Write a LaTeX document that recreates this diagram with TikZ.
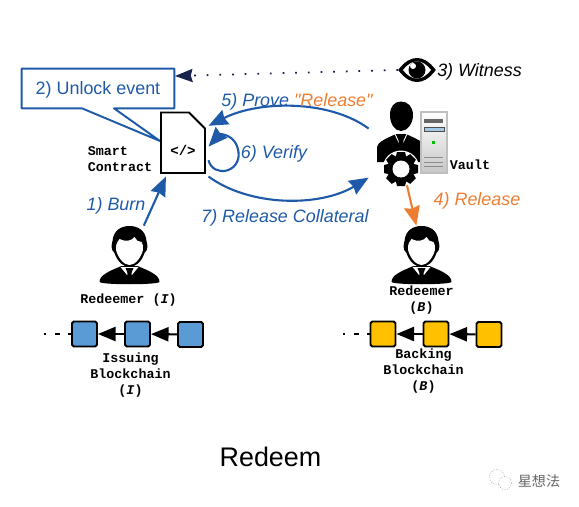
\documentclass[tikz,border=0pt]{standalone}
\usepackage{fontspec}
\setmainfont{Liberation Sans}
\setmonofont{Liberation Mono}
\newfontfamily\plainsans{Liberation Sans}
\newfontfamily\cjk{Noto Sans CJK SC}
\usepackage{tikz}
\usetikzlibrary{arrows.meta,calc}
\usepackage{xcolor}
\definecolor{cBlue}{RGB}{30,90,168}
\definecolor{cOrange}{RGB}{237,125,49}
\definecolor{cNavy}{RGB}{25,35,75}
\definecolor{cIssuing}{RGB}{91,155,213}
\definecolor{cBacking}{RGB}{255,192,0}
\tikzset{
  flowarrow/.style={line width=1.2pt,-{Stealth[length=11pt,width=9pt,inset=1pt]}},
  linkarrow/.style={line width=1.2pt,black,-{Triangle[length=10pt,width=8pt]}},
  labeltext/.style={font=\fontsize{10.2}{12}\selectfont\itshape,inner sep=0pt},
  monotext/.style={font=\fontsize{7.6}{9.1}\selectfont\ttfamily\bfseries,inner sep=0pt,align=center},
  block/.style={draw=black,line width=1.1pt,rounded corners=1pt,minimum size=0.5cm,inner sep=0pt},
  redeemer/.pic={
    % Shoulders, collar and tie
    \fill[black] (-30,56) .. controls (-30,49) and (-20,45) .. (-8,40) -- (8,40)
      .. controls (20,45) and (30,49) .. (30,56) .. controls (27,59) and (-27,59) .. (-30,56) -- cycle;
    \fill[white] (-9,41) -- (9,41) -- (0,52) -- cycle;
    \fill[black] (-4,42) -- (4,42) -- (2,47) -- (3,56) -- (-3,56) -- (-2,47) -- cycle;
    % Head
    \fill[black] (-15,27) .. controls (-19,24) and (-18,18) .. (-17,15)
      .. controls (-16,4) and (-8,0) .. (0,0) .. controls (8,0) and (16,4) .. (17,15)
      .. controls (18,18) and (19,24) .. (15,27) .. controls (12,36) and (6,41) .. (0,41)
      .. controls (-6,41) and (-12,36) .. (-15,27) -- cycle;
    \fill[white] (-13.5,22) .. controls (-13.5,18) and (-12,15) .. (-10,13)
      .. controls (-4,16) and (2,15) .. (5,11) .. controls (6,14) and (9,16) .. (12,16)
      .. controls (13.5,18) and (13.5,20) .. (13.5,24) .. controls (11,33) and (5,39) .. (0,39)
      .. controls (-5,39) and (-11,33) .. (-13.5,24) -- cycle;
  }
}
\begin{document}
\begin{tikzpicture}[x=0.02cm,y=-0.02cm]
  \useasboundingbox (0,0) rectangle (579,507);
  % Smart contract and its callout
  \node[minimum width=3.04cm,minimum height=0.78cm,inner sep=0pt,text=cBlue,text height=7pt,text depth=0pt,
    font=\fontsize{10.2}{12}\selectfont] (unlock) at (98,88.5) {2) Unlock event};
  \coordinate (pointerTip) at (160,141);
  \draw[cBlue,line width=1.1pt,line join=round] (unlock.north west) -- (unlock.north east) -- (unlock.south east)
    -- ($(unlock.south)+(16,0)$) -- (pointerTip) -- ($(unlock.south)+(-16,0)$) -- (unlock.south west) -- cycle;
  \draw[line width=1.1pt,fill=white] (161,112.5) -- (189,112.5) -- (205,128.5) -- (205,173) -- (161,173) -- cycle;
  \node[minimum width=0.88cm,minimum height=1.2cm,inner sep=0pt,outer sep=2pt] (contract) at (183,143) {};
  \node[inner sep=0pt,font=\fontsize{8}{10}\selectfont\ttfamily\bfseries] (codetag) at (183,150) {</>};
  \node[monotext,align=left] (contractname) at (120,159) {Smart\\Contract};
  % Vault
  \node[minimum width=1.28cm,minimum height=1.68cm,inner sep=0pt] (vault) at (401,143) {};
  \fill[black] (401,101.5) .. controls (394,101.5) and (390,107) .. (390,115)
    .. controls (390,124) and (395,131) .. (401,131) .. controls (407,131) and (413,124) .. (413,115)
    .. controls (413,107) and (408,101.5) .. (401,101.5) -- cycle;
  \fill[black] (377,162) -- (377,147) .. controls (378,142) and (385,139) .. (396,134)
    -- (406,134) .. controls (417,139) and (424,142) .. (425,147) -- (425,162) -- cycle;
  \draw[white,line width=0.5pt] (395,134) -- (401,147) -- (407,134);
  \fill[black] (398,135) -- (404,135) -- (403,140) -- (405,150) -- (397,150) -- (399,140) -- cycle;
  \fill[white] (401,169) circle (18.5);
  \foreach \a in {0,45,...,315}
    \fill[black,rotate around={\a:(401,169)}] (397,152) -- (405,152) -- (406.5,158) -- (395.5,158) -- cycle;
  \fill[black] (401,169) circle (13.5);
  \fill[white] (401,169) circle (8.5);
  % Server
  \shade[top color=white,bottom color=black!22,draw=black!25,line width=0.6pt] (421,112) rectangle (447,173);
  \fill[black!60] (424,119) rectangle (443,122.5);
  \draw[black!70,fill=cIssuing!55,line width=0.5pt] (424,127.5) rectangle (444,131.5);
  \fill[green!75!black] (431.5,140.5) rectangle (434.5,143.5);
  \draw[black!45,line width=0.5pt] (424,157) -- (443,157) (424,162) -- (443,162) (424,166.5) -- (443,166.5);
  \node[monotext] (vaultname) at (470,165) {Vault};
  % Witness
  \node[minimum width=0.74cm,minimum height=0.46cm,inner sep=0pt] (eye) at (417,70) {};
  \fill[black] (eye.west) .. controls (405,61) and (411,58) .. (417,58)
    .. controls (423,58) and (429,61) .. (eye.east) .. controls (429,79) and (423,82) .. (417,82)
    .. controls (411,82) and (405,79) .. (eye.west) -- cycle;
  \fill[white] (403,70) .. controls (408,64) and (412,61.5) .. (417,61.5)
    .. controls (422,61.5) and (426,64) .. (431,70) .. controls (426,76) and (422,78.5) .. (417,78.5)
    .. controls (412,78.5) and (408,76) .. (403,70) -- cycle;
  \fill[black] (417,70) circle (8.5);
  \fill[white] (413,66) circle (3);
  \node[labeltext,text=black] (witness) at (479.5,71.5) {3) Witness};
  \coordinate (witnessTip) at (175,76);
  \draw[cNavy,line width=1pt,dash pattern=on 1pt off 6.2pt,-{Stealth[length=10pt,width=7.5pt,inset=1pt,cNavy]}] (eye.west) -- (witnessTip);
  % Redeemers
  \node[minimum width=1.2cm,minimum height=1.16cm,inner sep=0pt] (redeemerI) at (129.5,255) {};
  \pic at (129.5,226) {redeemer};
  \node[monotext] (redeemerIname) at (128.5,300) {Redeemer (\textit{I})};
  \node[minimum width=1.2cm,minimum height=1.16cm,inner sep=0pt] (redeemerB) at (421.5,255) {};
  \pic at (421.5,226) {redeemer};
  \node[monotext] (redeemerBname) at (421.5,300) {Redeemer\\(\textit{B})};
  % Flows
  \draw[flowarrow,cBlue] (redeemerI.64) -- (contract.243);
  \node[labeltext,text=cBlue] (burn) at (116,205.5) {1) Burn};
  \draw[flowarrow,cBlue] (vault.156) .. controls (330,100) and (260,100) .. (contract.34);
  \node[labeltext,text=cBlue] (prove) at (297,102) {5) Prove {\plainsans\itshape\textcolor{cOrange}{"Release"}}};
  \draw[flowarrow,cBlue] (contract.-34) .. controls (213,178) and (241,173) .. (238.5,152)
    .. controls (236,134) and (220,134) .. (contract.-8);
  \node[labeltext,text=cBlue] (verify) at (274,153.5) {6) Verify};
  \draw[flowarrow,cBlue] (contract.south east) .. controls (250,207) and (320,207) .. (vault.-133);
  \node[labeltext,text=cBlue] (collateral) at (285,218) {7) Release Collateral};
  \draw[flowarrow,cOrange] (vault.-82) -- (redeemerB.100);
  \node[labeltext,text=cOrange] (release) at (477,200.5) {4) Release};
  % Issuing chain
  \node[block,fill=cIssuing] (issuingA) at (84.5,334) {};
  \node[block,fill=cIssuing] (issuingB) at (137.5,334) {};
  \node[block,fill=cIssuing] (issuingC) at (190.5,334.5) {};
  \draw[linkarrow] (issuingC) -- (issuingB);
  \draw[linkarrow] (issuingB) -- (issuingA);
  \coordinate (issuingEnd) at (44,334);
  \draw[line width=1.1pt,dash pattern=on 2.8pt off 5pt,dash phase=1.7pt] (issuingEnd) -- (issuingA);
  \node[monotext] (issuingname) at (130.5,375) {Issuing\\Blockchain\\(\textit{I})};
  % Backing chain
  \node[block,fill=cBacking] (backingA) at (383,334) {};
  \node[block,fill=cBacking] (backingB) at (436,334) {};
  \node[block,fill=cBacking] (backingC) at (489,334.5) {};
  \draw[linkarrow] (backingC) -- (backingB);
  \draw[linkarrow] (backingB) -- (backingA);
  \coordinate (backingEnd) at (343,334);
  \draw[line width=1.1pt,dash pattern=on 2.8pt off 5pt,dash phase=1.7pt] (backingEnd) -- (backingA);
  \node[monotext] (backingname) at (423.5,371) {Backing\\Blockchain\\(\textit{B})};
  % Title and watermark
  \node[font=\fontsize{15.3}{18}\selectfont,inner sep=0pt] (title) at (270.5,456.5) {Redeem};
  \draw[black!35,line width=0.4pt,densely dotted,fill=white] (497,477) circle (7.5);
  \draw[black!35,line width=0.4pt,densely dotted,fill=white] (505,483) circle (6.5);
  \node[font=\fontsize{8}{10}\selectfont\cjk,text=black!60,inner sep=0pt] (mark) at (539,481) {星想法};
\end{tikzpicture}
\end{document}
